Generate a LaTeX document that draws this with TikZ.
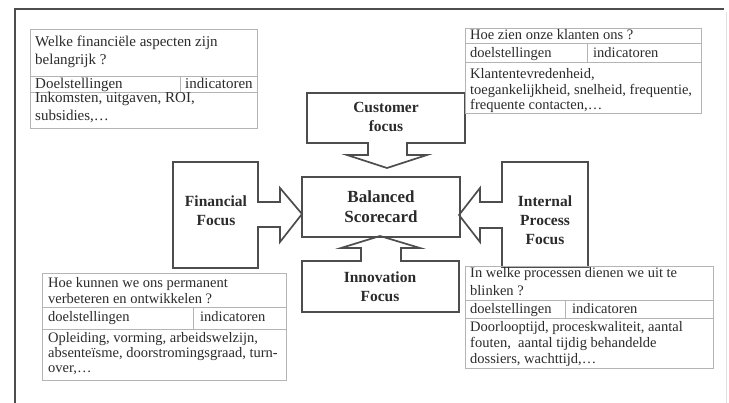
\documentclass[tikz,border=0pt]{standalone}
\usepackage{fontspec}
\setmainfont{Liberation Serif}
\definecolor{ink}{HTML}{2B2B2B}
\definecolor{boxline}{HTML}{4D4D4D}
\definecolor{rulegray}{HTML}{B4B4B4}
\begin{document}
\begin{tikzpicture}[x=1pt,y=-1pt,
  focusshape/.style={draw=boxline, line width=1.7pt, line join=miter},
  focuslabel/.style={font=\fontsize{15.5}{19}\selectfont\bfseries, text=ink, align=center, inner sep=0pt},
  gridline/.style={draw=rulegray, line width=0.6pt},
  % cells are placed by the baseline of their last line
  cell/.style={font=\fontsize{14.5}{#1}\selectfont, text=ink, align=left, anchor=base west, inner sep=0pt},
  cell/.default=16,
  bigcell/.style={cell=#1, font=\fontsize{15}{#1}\selectfont},
  bigcell/.default=16,
]
\useasboundingbox[fill=white] (0,0) rectangle (729,403);

% page frame
\draw[draw=boxline, line width=1.6pt] (15,403) -- (15,9) -- (724,9);
\draw[draw=black!12, line width=0.8pt] (726,12) -- (726,403);

% ---------- central block arrows ----------
\draw[focusshape] (307,93) -- (465,93) -- (465,143) -- (407,143) -- (407,155) -- (427,155)
  -- (387,168) -- (347,155) -- (368,155) -- (368,143) -- (307,143) -- cycle;
\node[focuslabel] (customer) at (386,117) {Customer\\focus};

\draw[focusshape] (173,162) -- (258,162) -- (258,202) -- (280,202) -- (280,188) -- (302,214)
  -- (280,242) -- (280,227) -- (258,227) -- (258,268) -- (173,268) -- cycle;
\node[focuslabel] (financial) at (216,211) {Financial\\Focus};

\draw[focusshape] (588,162) -- (502,162) -- (502,202) -- (480,202) -- (480,188) -- (459,215)
  -- (480,242) -- (480,228) -- (502,228) -- (502,267) -- (588,267) -- cycle;
\node[focuslabel] (internal) at (545,220) {Internal\\Process\\Focus};

\draw[focusshape] (302,312) -- (459,312) -- (459,261) -- (401,261) -- (401,248) -- (420,248)
  -- (380,236) -- (341,248) -- (361,248) -- (361,261) -- (302,261) -- cycle;
\node[focuslabel] (innovation) at (380,287) {Innovation\\Focus};

\draw[focusshape] (302,177) rectangle (460,237);
\node[focuslabel, font=\fontsize{17}{20}\selectfont\bfseries] (bsc) at (381,207) {Balanced\\Scorecard};

% ---------- financial table (top left) ----------
\draw[gridline] (30,29) rectangle (257,128);
\draw[gridline] (30,76) -- (257,76) (30,92) -- (257,92) (180,76) -- (180,92);
\node[bigcell=17.5] (finq) at (35,64.5) {Welke financiële aspecten zijn\\belangrijk ?};
\node[bigcell] (fing) at (35,88.5) {Doelstellingen};
\node[bigcell] (fini) at (185,88.5) {indicatoren};
\node[bigcell=18] (finc) at (35,120.5) {Inkomsten, uitgaven, ROI,\\subsidies,…};

% ---------- customer table (top right) ----------
\draw[gridline] (465,28) rectangle (701,113);
\draw[gridline] (465,43) -- (701,43) (465,62) -- (701,62) (587,43) -- (587,62);
\node[cell] (cusq) at (470,40) {Hoe zien onze klanten ons ?};
\node[cell] (cusg) at (470,58) {doelstellingen};
\node[cell] (cusi) at (593,58) {indicatoren};
\node[cell=15.5] (cusc) at (470,110) {Klantentevredenheid,\\toegankelijkheid, snelheid, frequentie,\\frequente contacten,…};

% ---------- innovation table (bottom left) ----------
\draw[gridline] (42,273) rectangle (286,380);
\draw[gridline] (42,307) -- (286,307) (42,329) -- (286,329) (193,307) -- (193,329);
\node[cell=16] (innq) at (48,304) {Hoe kunnen we ons permanent\\verbeteren en ontwikkelen ?};
\node[cell] (inng) at (48,322) {doelstellingen};
\node[cell] (inni) at (200,322) {indicatoren};
\node[cell=15] (innc) at (48,373) {Opleiding, vorming, arbeidswelzijn,\\absenteïsme, doorstromingsgraad, turn-\\over,…};

% ---------- process table (bottom right) ----------
\draw[gridline] (465,266) rectangle (713,368);
\draw[gridline] (465,300) -- (713,300) (465,318) -- (713,318) (565,300) -- (565,318);
\node[cell=18] (proq) at (470,296) {In welke processen dienen we uit te\\blinken ?};
\node[cell] (prog) at (470,314) {doelstellingen};
\node[cell] (proi) at (572,314) {indicatoren};
\node[cell=16] (proc) at (470,364) {Doorlooptijd, proceskwaliteit, aantal\\fouten,\ \ aantal tijdig behandelde\\dossiers, wachttijd,…};
\end{tikzpicture}
\end{document}
